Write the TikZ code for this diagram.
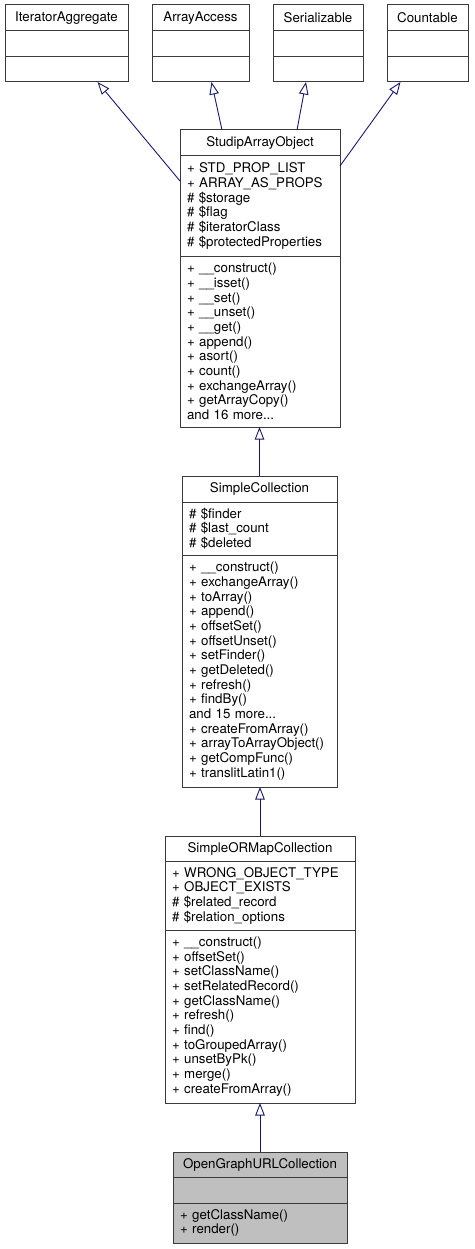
\documentclass[tikz,border=0pt]{standalone}
\usepackage{fontspec}
\setmainfont{TeX Gyre Heros}
\usetikzlibrary{arrows.meta,positioning}
\definecolor{umlnavy}{HTML}{191970}
\definecolor{umlgray}{HTML}{BFBFBF}
\definecolor{umlline}{HTML}{3A3A3A}
\newcommand{\umlfont}{\fontsize{13.3}{14.67}\selectfont\hyphenpenalty=10000\exhyphenpenalty=10000}
\tikzset{
  umlbox/.style={draw=umlline, line width=1pt, fill=white, outer sep=0pt, inner ysep=0pt, font=\umlfont},
  umltitle/.style={umlbox, anchor=north west, inner xsep=0pt, align=center},
  umlpart/.style={umlbox, below=0pt of #1, inner xsep=7pt, align=left},
  umlempty/.style={umlbox, below=0pt of #1, inner sep=0pt},
  umlinherit/.style={draw=umlnavy, line width=0.9pt, -{Triangle[open, length=12.5pt, width=9.5pt]}},
}
\begin{document}
\begin{tikzpicture}[x=1pt, y=-1pt]
  \useasboundingbox (0,0) rectangle (474,1249);
  % interfaces
  \node[umltitle, minimum width=123pt, minimum height=26pt] (ia) at (5,5) {IteratorAggregate};
  \node[umlempty=ia, minimum width=123pt, minimum height=26pt] (ia-attr) {};
  \node[umlempty=ia-attr, minimum width=123pt, minimum height=25pt] (ia-ops) {};
  \node[umltitle, minimum width=97pt, minimum height=26pt] (aa) at (152,5) {ArrayAccess};
  \node[umlempty=aa, minimum width=97pt, minimum height=26pt] (aa-attr) {};
  \node[umlempty=aa-attr, minimum width=97pt, minimum height=25pt] (aa-ops) {};
  \node[umltitle, minimum width=90pt, minimum height=26pt] (ser) at (273,5) {Serializable};
  \node[umlempty=ser, minimum width=90pt, minimum height=26pt] (ser-attr) {};
  \node[umlempty=ser-attr, minimum width=90pt, minimum height=25pt] (ser-ops) {};
  \node[umltitle, minimum width=81pt, minimum height=26pt] (cnt) at (387,5) {Countable};
  \node[umlempty=cnt, minimum width=81pt, minimum height=26pt] (cnt-attr) {};
  \node[umlempty=cnt-attr, minimum width=81pt, minimum height=25pt] (cnt-ops) {};

  % StudipArrayObject
  \node[umltitle, minimum width=160pt, minimum height=26pt] (sao) at (180,130) {StudipArrayObject};
  \node[umlpart=sao, text width=146pt, minimum height=100pt] (sao-attr) {+~STD\_PROP\_LIST\\+~ARRAY\_AS\_PROPS\\\#~\$storage\\\#~\$flag\\\#~\$iteratorClass\\\#~\$protectedProperties};
  \node[umlpart=sao-attr, text width=146pt, minimum height=171pt] (sao-ops) {+~\_\_construct()\\+~\_\_isset()\\+~\_\_set()\\+~\_\_unset()\\+~\_\_get()\\+~append()\\+~asort()\\+~count()\\+~exchangeArray()\\+~getArrayCopy()\\and 16 more...};

  % SimpleCollection
  \node[umltitle, minimum width=155pt, minimum height=26pt] (sc) at (182,476) {SimpleCollection};
  \node[umlpart=sc, text width=141pt, minimum height=53pt] (sc-attr) {\#~\$finder\\\#~\$last\_count\\\#~\$deleted};
  \node[umlpart=sc-attr, text width=141pt, minimum height=232pt] (sc-ops) {+~\_\_construct()\\+~exchangeArray()\\+~toArray()\\+~append()\\+~offsetSet()\\+~offsetUnset()\\+~setFinder()\\+~getDeleted()\\+~refresh()\\+~findBy()\\and 15 more...\\+~createFromArray()\\+~arrayToArrayObject()\\+~getCompFunc()\\+~translitLatin1()};

  % SimpleORMapCollection
  \node[umltitle, minimum width=190pt, minimum height=25pt] (sorm) at (165,836) {SimpleORMapCollection};
  \node[umlpart=sorm, text width=176pt, minimum height=69pt] (sorm-attr) {+~WRONG\_OBJECT\_TYPE\\+~OBJECT\_EXISTS\\\#~\$related\_record\\\#~\$relation\_options};
  \node[umlpart=sorm-attr, text width=176pt, minimum height=173pt] (sorm-ops) {+~\_\_construct()\\+~offsetSet()\\+~setClassName()\\+~setRelatedRecord()\\+~getClassName()\\+~refresh()\\+~find()\\+~toGroupedArray()\\+~unsetByPk()\\+~merge()\\+~createFromArray()};

  % OpenGraphURLCollection
  \node[umltitle, fill=umlgray, minimum width=174pt, minimum height=25pt] (og) at (173,1152) {OpenGraphURLCollection};
  \node[umlempty=og, fill=umlgray, minimum width=174pt, minimum height=26pt] (og-attr) {};
  \node[umlpart=og-attr, fill=umlgray, text width=160pt, minimum height=40pt] (og-ops) {+~getClassName()\\+~render()};

  % inheritance
  \draw[umlinherit] ([yshift=-25pt]sao-attr.north west) -- ([xshift=31pt]ia-ops.south);
  \draw[umlinherit] ([xshift=-38pt]sao.north) -- ([xshift=11pt]aa-ops.south);
  \draw[umlinherit] ([xshift=37pt]sao.north) -- ([xshift=-12pt]ser-ops.south);
  \draw[umlinherit] ([yshift=-10pt]sao-attr.north east) -- ([xshift=-27pt]cnt-ops.south);
  \draw[umlinherit] (sc.north) -- (sc.north |- sao-ops.south);
  \draw[umlinherit] (sorm.north) -- (sorm.north |- sc-ops.south);
  \draw[umlinherit] (og.north) -- (og.north |- sorm-ops.south);
\end{tikzpicture}
\end{document}
